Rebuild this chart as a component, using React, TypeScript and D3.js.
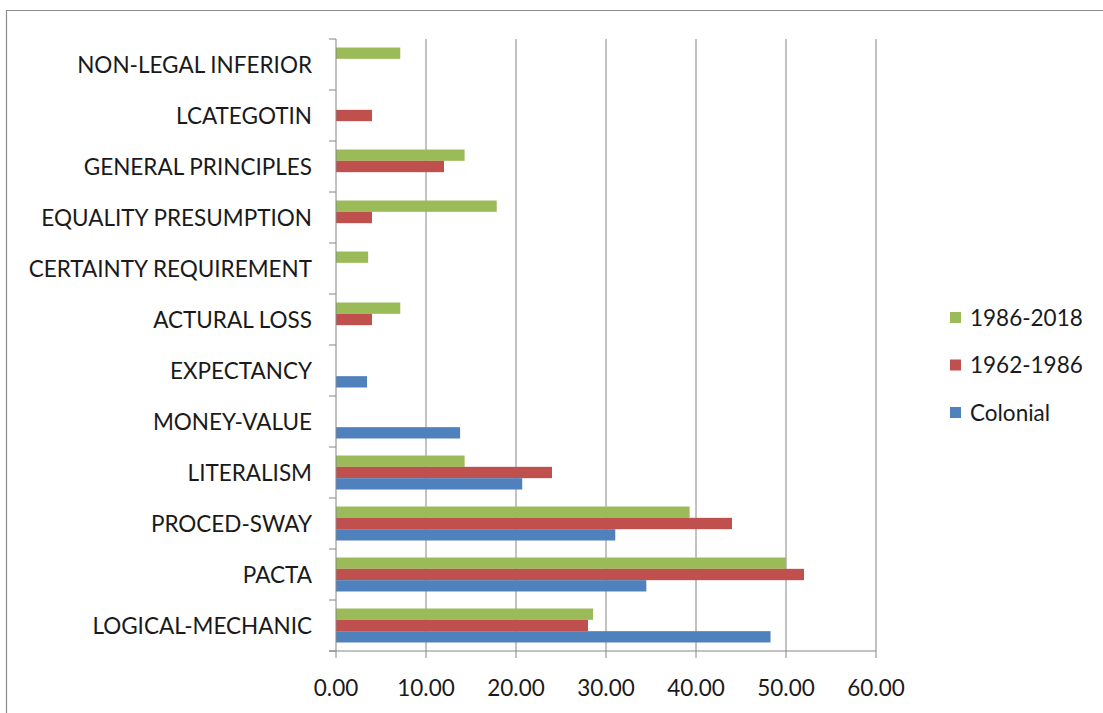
import React from "react";
import * as d3 from "d3";

const categories = [
  "NON-LEGAL INFERIOR",
  "LCATEGOTIN",
  "GENERAL PRINCIPLES",
  "EQUALITY PRESUMPTION",
  "CERTAINTY REQUIREMENT",
  "ACTURAL LOSS",
  "EXPECTANCY",
  "MONEY-VALUE",
  "LITERALISM",
  "PROCED-SWAY",
  "PACTA",
  "LOGICAL-MECHANIC",
];

// Series values, same order as categories (0 = no bar)
const period1986to2018 = [7.14, 0, 14.29, 17.86, 3.57, 7.14, 0, 0, 14.29, 39.29, 50.0, 28.57];
const period1962to1986 = [0, 4.0, 12.0, 4.0, 0, 4.0, 0, 0, 24.0, 44.0, 52.0, 28.0];
const colonial = [0, 0, 0, 0, 0, 0, 3.45, 13.79, 20.69, 31.03, 34.48, 48.28];

const seriesNames = ["1986-2018", "1962-1986", "Colonial"];
const seriesColors = ["#9BBB59", "#C0504D", "#4F81BD"];
const xTicks = [0, 10, 20, 30, 40, 50, 60];

const W = 1103;
const H = 713;
const plot = { left: 336, right: 876, top: 39, bottom: 651 };
const FONT = "Lato, 'Open Sans', sans-serif";
const FS = 22.5;

export default function App() {
  const seriesValues = [period1986to2018, period1962to1986, colonial];

  const x = d3.scaleLinear().domain([0, 60]).range([plot.left, plot.right]);
  const y = d3.scaleBand<string>().domain(categories).range([plot.top, plot.bottom]).padding(0);
  const sub = d3
    .scaleBand<string>()
    .domain(seriesNames)
    .range([0, y.bandwidth()])
    .paddingInner(0)
    .paddingOuter(0.75);

  const boundaries = d3.range(categories.length + 1).map((i) => plot.top + i * y.step());

  return (
    <svg width={W} height={H} style={{ position: "absolute", left: 0, top: 0, background: "#fff" }}>
      <rect x={0} y={0} width={W} height={H} fill="#fff" />
      {/* chart frame */}
      <line x1={6} x2={W} y1={10.5} y2={10.5} stroke="#8c8c8c" strokeWidth={1.2} />
      <line x1={6.5} x2={6.5} y1={10} y2={H} stroke="#8c8c8c" strokeWidth={1.2} />

      {/* vertical gridlines */}
      {xTicks.slice(1).map((t) => (
        <line key={t} x1={x(t)} x2={x(t)} y1={plot.top} y2={plot.bottom} stroke="#868686" strokeWidth={1} />
      ))}

      {/* bars */}
      {categories.map((c, ci) =>
        seriesNames.map((s, si) => {
          const v = seriesValues[si][ci];
          if (!v) return null;
          return (
            <rect
              key={c + s}
              x={x(0)}
              y={(y(c) as number) + (sub(s) as number)}
              width={x(v) - x(0)}
              height={sub.bandwidth()}
              fill={seriesColors[si]}
            />
          );
        })
      )}

      {/* category axis */}
      <line x1={x(0)} x2={x(0)} y1={plot.top} y2={plot.bottom} stroke="#868686" strokeWidth={1} />
      {boundaries.map((b, i) => (
        <line key={i} x1={x(0) - 7} x2={x(0)} y1={b} y2={b} stroke="#868686" strokeWidth={1} />
      ))}
      {categories.map((c) => (
        <text
          key={c}
          x={312}
          y={(y(c) as number) + y.bandwidth() / 2}
          textAnchor="end"
          dominantBaseline="central"
          fontFamily={FONT}
          fontSize={FS}
          fill="#1a1a1a"
        >
          {c}
        </text>
      ))}

      {/* value axis */}
      <line x1={x(0) - 7} x2={x(60)} y1={plot.bottom} y2={plot.bottom} stroke="#868686" strokeWidth={1} />
      {xTicks.map((t) => (
        <line key={t} x1={x(t)} x2={x(t)} y1={plot.bottom} y2={plot.bottom + 7} stroke="#868686" strokeWidth={1} />
      ))}
      {xTicks.map((t) => (
        <text
          key={t}
          x={x(t)}
          y={687}
          textAnchor="middle"
          dominantBaseline="central"
          fontFamily={FONT}
          fontSize={FS}
          fill="#1a1a1a"
        >
          {d3.format(".2f")(t)}
        </text>
      ))}

      {/* legend */}
      {seriesNames.map((s, i) => (
        <g key={s} transform={`translate(950, ${317 + i * 47.5})`}>
          <rect x={0} y={-5} width={11} height={11} fill={seriesColors[i]} />
          <text x={20} y={0} dominantBaseline="central" fontFamily={FONT} fontSize={FS} fill="#1a1a1a">
            {s}
          </text>
        </g>
      ))}
    </svg>
  );
}
